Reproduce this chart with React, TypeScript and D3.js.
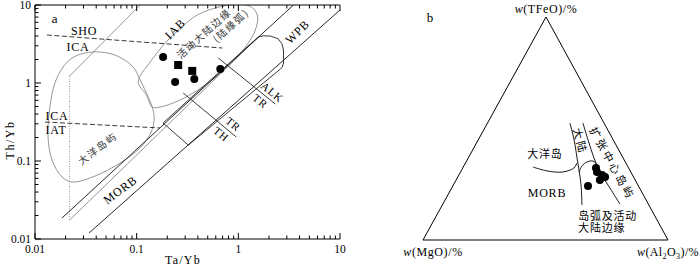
import React from 'react';
import * as d3 from 'd3';

// ---------- Panel a: Th/Yb vs Ta/Yb ----------
const xTickLabels = ['0.01', '0.1', '1', '10'];
const yTickLabels = ['0.01', '0.1', '1', '10'];

// samples [Ta/Yb, Th/Yb]
const circleSamples = [[0.182, 2.15], [0.369, 1.125], [0.239, 1.03], [0.665, 1.51]];
const squareSamples = [[0.256, 1.70], [0.352, 1.43]];

// boundary lines [Ta/Yb, Th/Yb]
const arrayUpper = [[0.01845, 0.01859], [3.48, 10]];
const arrayUpperInner = [[0.0219, 0.0175], [1.574, 3.89]];
const arrayLower = [[0.03405, 0.01194], [10, 8.63]];
const shoIca = [[0.0131, 4.125], [0.696, 2.81]];
const icaIat = [[0.01254, 0.316], [0.170, 0.265]];
const arcOuter = [[0.1083, 10], [0.0219, 1.23]];
const arcDotted = [[0.0219, 1.23], [0.0219, 0.0175]];
const trTh = [[0.287, 0.744], [0.955, 0.203]];
const alkTr = [[0.635, 2.09], [2.31, 0.538]];
const wpbBox = [
  [0.182, 0.307], [1.313, 3.16], [1.574, 3.89], [1.75, 4.02], [2.07, 4.0], [2.45, 3.7],
  [2.68, 3.2], [2.78, 2.65], [2.78, 1.80], [2.7, 1.6], [2.59, 1.51], [0.322, 0.160],
];
const oceanIsland = [
  [0.0437, 2.497], [0.0643, 2.22], [0.0924, 1.604], [0.1083, 1.093], [0.1298, 0.6615],
  [0.1421, 0.4924], [0.1487, 0.356], [0.139, 0.235], [0.108, 0.147], [0.0688, 0.0943],
  [0.039, 0.0642], [0.02315, 0.0538], [0.01845, 0.0624], [0.0147, 0.103], [0.0134, 0.215],
  [0.0141, 0.523], [0.0157, 1.0], [0.01887, 1.604], [0.02315, 2.092], [0.0311, 2.424],
];
const activeMargin = [
  [0.1034, 1.03], [0.1358, 1.859], [0.1909, 3.257], [0.2683, 5.07], [0.3945, 7.44],
  [0.593, 9.15], [0.934, 10.2], [1.313, 9.6], [1.539, 7.44], [1.471, 4.78], [1.172, 2.894],
  [0.797, 1.652], [0.473, 0.943], [0.268, 0.6055], [0.170, 0.4924], [0.142, 0.492], [0.125, 0.70],
];

const labelsA = [
  { t: 'a', x: 0.01574, y: 6.81, r: 0, size: 13, font: 'latin' },
  { t: 'SHO', x: 0.0304, y: 4.64, r: 0, size: 12, font: 'latin' },
  { t: 'ICA', x: 0.0265, y: 2.894, r: 0, size: 12, font: 'latin' },
  { t: 'ICA', x: 0.01646, y: 0.378, r: 0, size: 12, font: 'latin' },
  { t: 'IAT', x: 0.0161, y: 0.25, r: 0, size: 12, font: 'latin' },
  { t: 'IAB', x: 0.239, y: 4.93, r: -45, size: 12, font: 'latin' },
  { t: 'WPB', x: 3.81, y: 4.51, r: -45, size: 12, font: 'latin' },
  { t: 'MORB', x: 0.0688, y: 0.0425, r: -37, size: 12, font: 'latin' },
  { t: 'ALK', x: 2.16, y: 0.767, r: 39, size: 11, font: 'latin' },
  { t: 'TR', x: 1.65, y: 0.588, r: 39, size: 11, font: 'latin' },
  { t: 'TR', x: 0.893, y: 0.298, r: 39, size: 11, font: 'latin' },
  { t: 'TH', x: 0.68, y: 0.222, r: 39, size: 11, font: 'latin' },
  { t: '活动大陆边缘', x: 0.452, y: 4.37, r: -42, size: 10, font: 'cjk' },
  { t: '(陆缘弧)', x: 0.834, y: 5.54, r: -42, size: 10, font: 'cjk' },
  { t: '大洋岛屿', x: 0.0408, y: 0.147, r: -37, size: 10, font: 'cjk' },
];

// ---------- Panel b: TFeO - MgO - Al2O3 ternary ----------
// [TFeO, MgO, Al2O3] in %
const ternSamples = [
  [30.5, 13.8, 55.7], [29.1, 12.4, 58.5], [26.9, 14.4, 58.7],
  [28.3, 11.6, 60.1], [24.2, 20.6, 55.2], [32.3, 13.3, 54.4],
];
const oiMorb = [[32.7, 38.8, 28.5], [30.9, 33.6, 35.5], [30.5, 27.7, 41.8], [32.3, 22.3, 45.4], [34.5, 20.0, 45.5]];
const contLeft = [[52.5, 13.9, 33.6], [44.8, 16.0, 39.2], [36.8, 18.8, 44.4], [31.4, 20.7, 47.9], [24.7, 23.2, 52.1], [15.7, 27.3, 57.0]];
const contRight = [[52.5, 8.6, 38.9], [44.8, 10.3, 44.9], [36.8, 11.9, 51.3], [30.5, 12.6, 56.9], [23.3, 12.1, 64.6], [16.1, 11.6, 72.3]];
const arcTop = [[30.5, 21.1, 48.4], [33.2, 18.6, 48.2], [35.0, 15.6, 49.4], [35.4, 13.0, 51.6], [33.6, 12.2, 54.2], [30.5, 12.6, 56.9]];

const labelsB = [
  { t: '大洋岛', p: [39.0, 30.8, 30.2], r: 0, anchor: 'middle' },
  { t: '大陆', p: [44.4, 13.4, 42.2], r: 75, anchor: 'middle' },
  { t: '扩张中心岛屿', p: [34.5, 5.3, 60.2], r: 61, anchor: 'middle' },
  { t: 'MORB', p: [21.1, 38.9, 40.0], r: 0, anchor: 'middle' },
  { t: '岛弧及活动', p: [11.2, 31.1, 57.7], r: 0, anchor: 'start' },
  { t: '大陆边缘', p: [5.8, 33.8, 60.4], r: 0, anchor: 'start' },
];

const LATIN = '"Liberation Serif", "Times New Roman", serif';
const CJK = '"Noto Sans CJK SC", sans-serif';

export default function App() {
  // panel a scales
  const x = d3.scaleLog().domain([0.01, 10]).range([35, 340]);
  const y = d3.scaleLog().domain([0.01, 10]).range([239, 5]);
  const line = d3.line<number[]>().x(d => x(d[0])).y(d => y(d[1]));
  const closedSmooth = d3.line<number[]>().x(d => x(d[0])).y(d => y(d[1])).curve(d3.curveCatmullRomClosed.alpha(0.5));
  const closedLin = d3.line<number[]>().x(d => x(d[0])).y(d => y(d[1])).curve(d3.curveLinearClosed);

  const isMajor = (t: number) => Math.abs(Math.log10(t) - Math.round(Math.log10(t))) < 1e-6;
  const xt = x.ticks();
  const yt = y.ticks();

  // ternary projection
  const A = [546, 17]; // TFeO
  const B = [423, 240]; // MgO
  const C = [668, 240]; // Al2O3
  const proj = (p: number[]) => {
    const s = p[0] + p[1] + p[2];
    return [
      (p[0] * A[0] + p[1] * B[0] + p[2] * C[0]) / s,
      (p[0] * A[1] + p[1] * B[1] + p[2] * C[1]) / s,
    ];
  };
  const tline = d3.line<number[]>().x(d => proj(d)[0]).y(d => proj(d)[1]).curve(d3.curveCatmullRom.alpha(0.5));

  return (
    <svg width={700} height={266} style={{ position: 'absolute', left: 0, top: 0, background: '#fff' }}>
      <defs>
        <clipPath id="clipA">
          <rect x={35} y={5} width={305} height={234} />
        </clipPath>
      </defs>
      {/* ---------- panel a ---------- */}
      <g clipPath="url(#clipA)" fill="none">
        <path d={closedSmooth(oceanIsland) || ''} stroke="#8a8a8a" strokeWidth={0.9} />
        <path d={closedSmooth(activeMargin) || ''} stroke="#8a8a8a" strokeWidth={0.9} />
        <path d={line(arcOuter) || ''} stroke="#8a8a8a" strokeWidth={0.9} />
        <path d={line(arcDotted) || ''} stroke="#8a8a8a" strokeWidth={0.9} strokeDasharray="1,1.5" />
        <path d={line(arrayUpperInner) || ''} stroke="#8a8a8a" strokeWidth={0.9} />
        <path d={line(arrayUpper) || ''} stroke="#111" strokeWidth={0.9} />
        <path d={line(arrayLower) || ''} stroke="#111" strokeWidth={0.9} />
        <path d={closedLin(wpbBox) || ''} stroke="#222" strokeWidth={0.9} strokeLinejoin="round" />
        <path d={line(shoIca) || ''} stroke="#222" strokeWidth={0.9} strokeDasharray="5,2.5" />
        <path d={line(icaIat) || ''} stroke="#222" strokeWidth={0.9} strokeDasharray="5,2.5" />
        <path d={line(trTh) || ''} stroke="#222" strokeWidth={0.9} />
        <path d={line(alkTr) || ''} stroke="#222" strokeWidth={0.9} />
      </g>
      {/* axes */}
      <g stroke="#000" strokeWidth={1} fill="none">
        <line x1={35} x2={35} y1={5} y2={239} />
        <line x1={35} x2={340} y1={239} y2={239} />
        <line x1={35} x2={340} y1={5} y2={5} />
        {xt.map((t, i) => {
          const L = isMajor(t) ? 6 : 3.5;
          return (
            <g key={'xt' + i}>
              <line x1={x(t)} x2={x(t)} y1={239} y2={239 - L} />
              <line x1={x(t)} x2={x(t)} y1={5} y2={5 + L} />
            </g>
          );
        })}
        {yt.map((t, i) => {
          const L = isMajor(t) ? 6 : 3.5;
          return <line key={'yt' + i} x1={35} x2={35 + L} y1={y(t)} y2={y(t)} />;
        })}
      </g>
      <g fontFamily={LATIN} fontSize={11.5} fill="#000">
        {xTickLabels.map(l => (
          <text key={'xl' + l} x={x(+l)} y={253} textAnchor="middle">{l}</text>
        ))}
        {yTickLabels.map(l => (
          <text key={'yl' + l} x={31} y={y(+l)} textAnchor="end" dominantBaseline="central">{l}</text>
        ))}
        <text x={183} y={264} textAnchor="middle" fontSize={12} letterSpacing={1.2}>Ta/Yb</text>
        <text transform="translate(10,140) rotate(-90)" textAnchor="middle" fontSize={12} letterSpacing={1.5} dominantBaseline="central">Th/Yb</text>
      </g>
      {/* samples a */}
      <g fill="#000">
        {circleSamples.map((d, i) => (
          <circle key={'c' + i} cx={x(d[0])} cy={y(d[1])} r={4} />
        ))}
        {squareSamples.map((d, i) => (
          <rect key={'s' + i} x={x(d[0]) - 4} y={y(d[1]) - 4} width={8} height={8} />
        ))}
      </g>
      {/* labels a */}
      <g fill="#000">
        {labelsA.map((l, i) => (
          <text
            key={'la' + i}
            transform={`translate(${x(l.x)},${y(l.y)}) rotate(${l.r})`}
            textAnchor="middle"
            dominantBaseline="central"
            fontFamily={l.font === 'cjk' ? CJK : LATIN}
            fontSize={l.size}
            letterSpacing={l.font === 'cjk' ? 1.5 : 0.8}
            fill={l.font === 'cjk' ? '#333' : '#000'}
          >
            {l.t}
          </text>
        ))}
      </g>

      {/* ---------- panel b ---------- */}
      <path d={`M${A[0]},${A[1]}L${B[0]},${B[1]}L${C[0]},${C[1]}Z`} fill="none" stroke="#000" strokeWidth={1} />
      <g fill="none" stroke="#000" strokeWidth={0.9}>
        <path d={tline(oiMorb) || ''} />
        <path d={tline(contLeft) || ''} />
        <path d={tline(contRight) || ''} />
        <path d={tline(arcTop) || ''} />
      </g>
      <g fill="#000">
        {ternSamples.map((p, i) => {
          const [cx, cy] = proj(p);
          return <circle key={'t' + i} cx={cx} cy={cy} r={4} />;
        })}
      </g>
      <g fill="#000">
        {labelsB.map((l, i) => {
          const [px, py] = proj(l.p);
          const isLatin = l.t === 'MORB';
          return (
            <text
              key={'lb' + i}
              transform={`translate(${px},${py}) rotate(${l.r})`}
              textAnchor={l.anchor as any}
              dominantBaseline="central"
              fontFamily={isLatin ? LATIN : CJK}
              fontSize={isLatin ? 12 : 11}
              letterSpacing={isLatin ? 0.8 : (l.r ? 2.5 : 0.8)}
            >
              {l.t}
            </text>
          );
        })}
      </g>
      <g fontFamily={LATIN} fontSize={12} fill="#000">
        <text x={430} y={22} textAnchor="middle" fontSize={13}>b</text>
        <text x={A[0]} y={13} textAnchor="middle" letterSpacing={0.6}>
          <tspan fontStyle="italic">w</tspan>(TFeO)/%
        </text>
        <text x={B[0] + 10} y={256} textAnchor="middle" letterSpacing={0.6}>
          <tspan fontStyle="italic">w</tspan>(MgO)/%
        </text>
        <text x={C[0]} y={256} textAnchor="middle" letterSpacing={0.4}>
          <tspan fontStyle="italic">w</tspan>(Al<tspan fontSize={8} dy={3}>2</tspan><tspan dy={-3}>O</tspan><tspan fontSize={8} dy={3}>3</tspan><tspan dy={-3}>)/%</tspan>
        </text>
      </g>
    </svg>
  );
}
